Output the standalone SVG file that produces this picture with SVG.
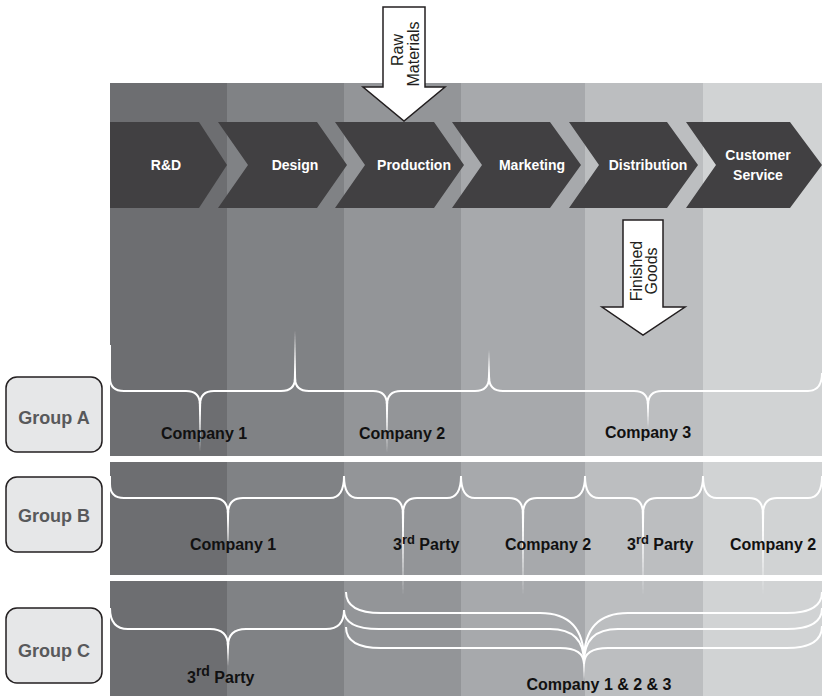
<svg xmlns="http://www.w3.org/2000/svg" width="822" height="696" viewBox="0 0 822 696">
<style>
.chev{fill:#414042}
.ct{font-family:"Liberation Sans",Arial,sans-serif;font-weight:bold;font-size:14px;fill:#ffffff;text-anchor:middle}
.lbl{font-family:"Liberation Sans",Arial,sans-serif;font-weight:bold;font-size:16px;fill:#111111}
.mid{text-anchor:middle}
.gbox{fill:#e6e7e8;stroke:#231f20;stroke-width:1.5}
.gt{font-family:"Liberation Sans",Arial,sans-serif;font-weight:bold;font-size:18px;fill:#58595b;text-anchor:middle}
.arrow{fill:#ffffff;stroke:#231f20;stroke-width:1.5}
.at{font-family:"Liberation Sans",Arial,sans-serif;font-size:16px;fill:#231f20;text-anchor:middle}
.br{fill:none;stroke:#ffffff;stroke-width:2}
.sp{fill:#ffffff}
</style>
<g id="background">
<rect x="110" y="83" width="117" height="613" fill="#6d6e71"/>
<rect x="227" y="83" width="117" height="613" fill="#808285"/>
<rect x="344" y="83" width="117" height="613" fill="#939598"/>
<rect x="461" y="83" width="124" height="613" fill="#a7a9ac"/>
<rect x="585" y="83" width="118" height="613" fill="#bcbec0"/>
<rect x="703" y="83" width="119" height="613" fill="#d1d3d4"/>
<rect x="110" y="456" width="712" height="6" fill="#ffffff"/>
<rect x="110" y="575" width="712" height="6" fill="#ffffff"/>
</g>
<g id="stage-rd"><polygon class="chev" points="110,122 199,122 227,165 199,208 110,208"/><text class="ct" x="166" y="170">R&amp;D</text></g>
<g id="stage-design"><polygon class="chev" points="218,122 317,122 347,165 317,208 218,208 248,165"/><text class="ct" x="295" y="170">Design</text></g>
<g id="stage-production"><polygon class="chev" points="335,122 434,122 464,165 434,208 335,208 365,165"/><text class="ct" x="414" y="170">Production</text></g>
<g id="stage-marketing"><polygon class="chev" points="452,122 550,122 581,165 550,208 452,208 482,165"/><text class="ct" x="532" y="170">Marketing</text></g>
<g id="stage-distribution"><polygon class="chev" points="569,122 667,122 698,165 667,208 569,208 599,165"/><text class="ct" x="648" y="170">Distribution</text></g>
<g id="stage-customer-service"><polygon class="chev" points="686,122 790,122 822,165 790,208 686,208 716,165"/><text class="ct" x="758" y="160">Customer</text><text class="ct" x="758" y="180">Service</text></g>
<g id="raw-materials"><polygon class="arrow" points="383,7 425,7 425,87 445,87 404,121 363,87 383,87"/><text class="at" transform="translate(403,50) rotate(-90)">Raw</text><text class="at" transform="translate(419,54) rotate(-90)">Materials</text></g>
<g id="finished-goods"><polygon class="arrow" points="623,220 663,220 663,307 685,307 643,335 602,307 623,307"/><text class="at" transform="translate(642,271) rotate(-90)">Finished</text><text class="at" transform="translate(657,271) rotate(-90)">Goods</text></g>
<g id="group-a"><rect class="gbox" x="6" y="377" width="96" height="75" rx="11"/><text class="gt" x="54" y="424">Group A</text></g>
<g id="group-b"><rect class="gbox" x="6" y="477" width="96" height="75" rx="11"/><text class="gt" x="54" y="522">Group B</text></g>
<g id="group-c"><rect class="gbox" x="6" y="608" width="96" height="75" rx="11"/><text class="gt" x="54" y="657">Group C</text></g>
<g id="connectors">
<path class="br" d="M110,345 L110,378 Q110,391 124,391 L186,391 Q200,391 200,405 Q200,391 214,391 L281,391 Q295,391 295,378"/>
<path class="br" d="M295,378 Q295,391 309,391 L373,391 Q387,391 387,405 Q387,391 401,391 L475,391 Q489,391 489,377"/>
<path class="br" d="M489,377 Q489,391 503,391 L634,391 Q648,391 648,405 Q648,391 662,391 L808,391 Q822,391 822,373"/>
<polygon class="sp" points="198.8,402 201.2,402 200,452"/>
<polygon class="sp" points="385.8,402 388.2,402 387,453"/>
<polygon class="sp" points="646.8,402 649.2,402 648,428"/>
<polygon class="sp" points="293.8,381 296.2,381 295,330"/>
<polygon class="sp" points="487.8,380 490.2,380 489,350"/>
<path class="br" d="M110,476 L110,484 Q110,498 124,498 L213,498 Q228,498 228,514 Q228,498 243,498 L330,498 Q344,498 344,476"/>
<path class="br" d="M344,476 Q344,498 358,498 L389,498 Q403,498 403,514 Q403,498 417,498 L447,498 Q461,498 461,476"/>
<path class="br" d="M461,476 Q461,498 475,498 L509,498 Q523,498 523,514 Q523,498 537,498 L571,498 Q585,498 585,476"/>
<path class="br" d="M585,476 Q585,498 599,498 L629,498 Q643,498 643,514 Q643,498 657,498 L689,498 Q703,498 703,476"/>
<path class="br" d="M703,476 Q703,498 717,498 L749,498 Q763,498 763,514 Q763,498 777,498 L808,498 Q822,498 822,476"/>
<polygon class="sp" points="226.8,511 229.2,511 228,553"/>
<polygon class="sp" points="401.8,511 404.2,511 403,596"/>
<polygon class="sp" points="521.8,511 524.2,511 523,596"/>
<polygon class="sp" points="641.8,511 644.2,511 643,596"/>
<polygon class="sp" points="761.8,511 764.2,511 763,596"/>
<path class="br" d="M110,608 Q110,629 128,629 L210,629 Q228,629 228,646 Q228,629 246,629 L326,629 Q344,629 344,610"/>
<polygon class="sp" points="226.8,643 229.2,643 228,666"/>
<path class="br" d="M346,592 Q346,613 381,613 L540,613 Q584,613 584,660 Q584,613 628,613 L787,613 Q822,613 822,592"/>
<path class="br" d="M344,610 Q344,629 379,629 L550,629 Q584,629 584,662 Q584,629 618,629 L787,629 Q822,629 822,608"/>
<path class="br" d="M346,627 Q346,648 381,648 L560,648 Q584,648 584,664 Q584,648 608,648 L787,648 Q822,648 822,626"/>
<polygon class="sp" points="582.8,658 585.2,658 584,682"/>
</g>
<g id="labels-a">
<text class="lbl mid" x="204" y="439">Company 1</text>
<text class="lbl mid" x="402" y="439">Company 2</text>
<text class="lbl mid" x="648" y="438">Company 3</text>
</g>
<g id="labels-b">
<text class="lbl mid" x="233" y="550">Company 1</text>
<text class="lbl" x="393" y="550">3<tspan dy="-6" font-size="13">rd</tspan><tspan dy="6"> Party</tspan></text>
<text class="lbl mid" x="548" y="550">Company 2</text>
<text class="lbl" x="627" y="550">3<tspan dy="-6" font-size="13">rd</tspan><tspan dy="6"> Party</tspan></text>
<text class="lbl mid" x="773" y="550">Company 2</text>
</g>
<g id="labels-c">
<text class="lbl" x="187" y="683" font-size="17">3<tspan dy="-7" font-size="14">rd</tspan><tspan dy="7"> Party</tspan></text>
<text class="lbl mid" x="599" y="690" font-size="15">Company 1 &amp; 2 &amp; 3</text>
</g>
</svg>
